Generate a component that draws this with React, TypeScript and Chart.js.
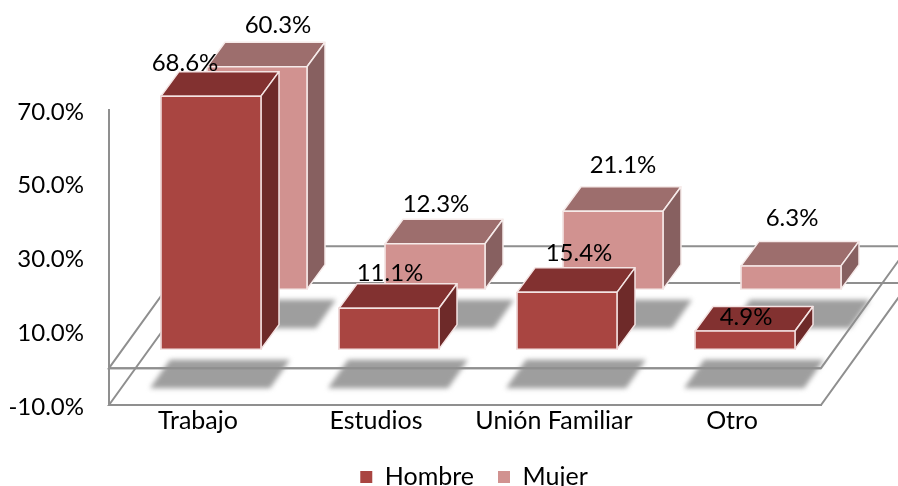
import React, { useEffect, useRef } from "react";
import { Chart, registerables } from "chart.js";

Chart.register(...registerables);

const categories = ["Trabajo", "Estudios", "Unión Familiar", "Otro"];
const hombre = [68.6, 11.1, 15.4, 4.9];
const mujer = [60.3, 12.3, 21.1, 6.3];
const seriesNames = ["Hombre", "Mujer"];

const FONT = "Lato";
const FS = 24;
const FS_CAT = 25;
const LINE = "#8f8f8f";
const FACES = [
  { front: "#a94541", top: "#823130", side: "#6e2a29", edge: "#f4e4e3" },
  { front: "#d19290", top: "#9d6e6d", side: "#876060", edge: "#f6ebea" },
];
// projection of each series' row on the floor
const ROW = [{ dx: 13, dy: -19 }, { dx: 59, dy: -79 }];
const BAR_DEPTH = { dx: 18, dy: -24.5 };
const FLOOR_DEPTH = { dx: 88, dy: -122 };
// value-label nudges from the centre of each bar's front-top edge
const LABEL_NUDGE = [
  [[-26, -33], [1, -35], [12, -39], [1, -14]],
  [[21, -42], [1, -40], [10, -46], [1, -48]],
];
const Y_LABEL_DROP = 2;

const scene3d = {
  id: "scene3d",
  beforeDraw(chart: any) {
    chart.scales.y.getLabelItems().forEach((it: any) => {
      if (!it.options.dropped) {
        it.options.translation[1] += Y_LABEL_DROP;
        it.options.dropped = true;
      }
    });
  },
  beforeDatasetsDraw(chart: any) {
    const { ctx, chartArea: a, scales } = chart;
    const yFloor = scales.y.getPixelForValue(-10);
    const yZero = scales.y.getPixelForValue(0);
    // shadows on the floor
    ctx.save();
    ctx.filter = "blur(2.5px)";
    ctx.fillStyle = "#9e9e9e";
    [1, 0].forEach((d) => {
      chart.getDatasetMeta(d).data.forEach((el: any) => {
        const p = el.getProps(["x", "base", "width"], true);
        const L = p.x + ROW[d].dx - p.width / 2;
        const B = p.base + ROW[d].dy;
        ctx.beginPath();
        ctx.moveTo(L + 9, B + 10.5);
        ctx.lineTo(L + 129, B + 10.5);
        ctx.lineTo(L + 109, B + 39);
        ctx.lineTo(L - 11, B + 39);
        ctx.closePath();
        ctx.fill();
      });
    });
    ctx.restore();
    // floor and zero planes
    ctx.save();
    ctx.strokeStyle = LINE;
    ctx.lineWidth = 2;
    [yFloor, yZero].forEach((y: number) => {
      ctx.beginPath();
      ctx.moveTo(a.left, y);
      ctx.lineTo(a.left + FLOOR_DEPTH.dx, y + FLOOR_DEPTH.dy);
      ctx.lineTo(a.right + FLOOR_DEPTH.dx, y + FLOOR_DEPTH.dy);
      ctx.lineTo(a.right, y);
      ctx.closePath();
      ctx.stroke();
      ctx.beginPath();
      ctx.moveTo(a.left, y);
      ctx.lineTo(a.right, y);
      ctx.stroke();
    });
    ctx.restore();
  },
  beforeDatasetDraw(chart: any, args: any) {
    const d = args.index;
    const { ctx } = chart;
    const f = FACES[d];
    ctx.save();
    ctx.translate(ROW[d].dx, ROW[d].dy);
    ctx.lineWidth = 1.5;
    ctx.strokeStyle = f.edge;
    ctx.lineJoin = "round";
    args.meta.data.forEach((el: any) => {
      const p = el.getProps(["x", "y", "base", "width"], true);
      const l = p.x - p.width / 2;
      const r = p.x + p.width / 2;
      const { dx, dy } = BAR_DEPTH;
      ctx.fillStyle = f.top;
      ctx.beginPath();
      ctx.moveTo(l, p.y);
      ctx.lineTo(l + dx, p.y + dy);
      ctx.lineTo(r + dx, p.y + dy);
      ctx.lineTo(r, p.y);
      ctx.closePath();
      ctx.fill();
      ctx.stroke();
      ctx.fillStyle = f.side;
      ctx.beginPath();
      ctx.moveTo(r, p.y);
      ctx.lineTo(r + dx, p.y + dy);
      ctx.lineTo(r + dx, p.base + dy);
      ctx.lineTo(r, p.base);
      ctx.closePath();
      ctx.fill();
      ctx.stroke();
    });
  },
  afterDatasetDraw(chart: any, args: any) {
    const { ctx } = chart;
    const f = FACES[args.index];
    ctx.strokeStyle = f.edge;
    ctx.lineWidth = 1.5;
    args.meta.data.forEach((el: any) => {
      const p = el.getProps(["x", "y", "base", "width"], true);
      ctx.strokeRect(p.x - p.width / 2, p.y, p.width, p.base - p.y);
    });
    ctx.restore();
  },
  afterDatasetsDraw(chart: any) {
    const { ctx, data } = chart;
    ctx.save();
    ctx.font = `${FS}px ${FONT}`;
    ctx.fillStyle = "#000";
    ctx.textAlign = "center";
    ctx.textBaseline = "middle";
    data.datasets.forEach((ds: any, d: number) => {
      chart.getDatasetMeta(d).data.forEach((el: any, i: number) => {
        const p = el.getProps(["x", "y"], true);
        const n = LABEL_NUDGE[d][i];
        ctx.fillText(
          ds.data[i].toFixed(1) + "%",
          p.x + ROW[d].dx + n[0],
          p.y + ROW[d].dy + n[1]
        );
      });
    });
    ctx.restore();
  },
};

export default function App() {
  const ref = useRef<HTMLCanvasElement>(null);
  useEffect(() => {
    document.body.style.margin = "0";
    const chart = new Chart(ref.current as HTMLCanvasElement, {
      type: "bar",
      plugins: [scene3d],
      data: {
        labels: categories,
        datasets: [
          { label: seriesNames[0], data: hombre, backgroundColor: FACES[0].front, borderWidth: 0, grouped: false, barThickness: 100, clip: false },
          { label: seriesNames[1], data: mujer, backgroundColor: FACES[1].front, borderWidth: 0, grouped: false, barThickness: 100, clip: false },
        ] as any,
      },
      options: {
        responsive: false,
        animation: false,
        layout: { padding: { left: 0, top: 110, right: -50, bottom: -13.5 } },
        scales: {
          x: {
            grid: { display: false, drawTicks: false },
            border: { display: true, color: LINE, width: 2 },
            ticks: { color: "#000", font: { family: FONT, size: FS_CAT }, padding: 1, maxRotation: 0 },
            afterFit(s: any) { s.height = 35.5; },
          },
          y: {
            min: -10,
            max: 70,
            grid: { display: false, drawTicks: false },
            border: { display: true, color: LINE, width: 2 },
            ticks: {
              stepSize: 20,
              color: "#000",
              padding: 25,
              font: { family: FONT, size: FS },
              callback: (v: any) => Number(v).toFixed(1) + "%",
            },
            afterFit(s: any) { s.width = 109; },
          },
          gutter: {
            position: "right",
            grid: { display: false },
            border: { display: false },
            ticks: { display: false },
            afterFit(s: any) { s.width = 127; },
          },
        },
        plugins: {
          tooltip: { enabled: false },
          legend: {
            position: "bottom",
            labels: { color: "#000", font: { family: FONT, size: FS_CAT }, boxWidth: 12, boxHeight: 12, padding: 24 },
          },
        },
      } as any,
    });
    return () => chart.destroy();
  }, []);
  return <canvas ref={ref} width={898} height={486} style={{ display: "block" }} />;
}
